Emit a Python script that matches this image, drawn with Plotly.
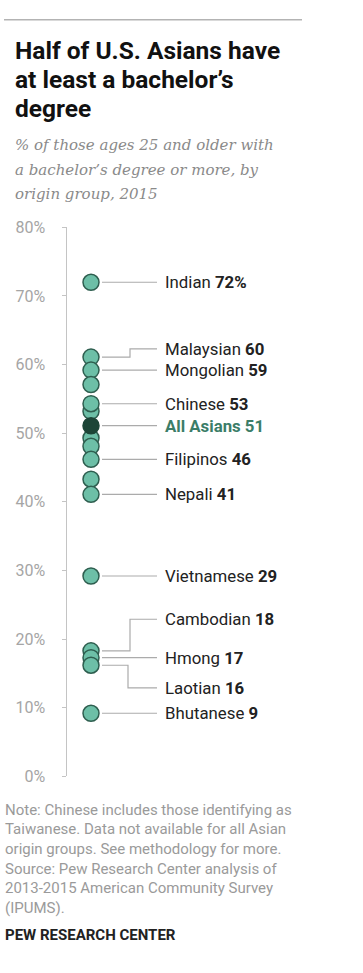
import plotly.graph_objects as go

W, H = 363, 973

# ---------------- data ----------------
dot_names = ["Indian", "Malaysian", "Mongolian", "", "", "Chinese", "", "",
             "Filipinos", "", "Nepali", "Vietnamese", "Cambodian", "Hmong",
             "Laotian", "Bhutanese"]
dot_values = [72.0, 61.1, 59.2, 57.1, 53.2, 54.3, 49.3, 48.1,
              46.2, 43.3, 41.1, 29.2, 18.3, 17.3, 16.2, 9.2]
label_values = {"Indian": "72%", "Malaysian": "60", "Mongolian": "59",
                "Chinese": "53", "Filipinos": "46", "Nepali": "41",
                "Vietnamese": "29", "Cambodian": "18", "Hmong": "17",
                "Laotian": "16", "Bhutanese": "9"}
all_name = "All Asians"
all_value = 51.1
all_label = "51"

y_ticks = [0, 10, 20, 30, 40, 50, 60, 70, 80]

title_lines = ["Half of U.S. Asians have", "at least a bachelor\u2019s", "degree"]
subtitle_lines = ["% of those ages 25 and older with",
                  "a bachelor\u2019s degree or more, by",
                  "origin group, 2015"]
note_lines = ["Note: Chinese includes those identifying as",
              "Taiwanese. Data not available for all Asian",
              "origin groups. See methodology for more.",
              "Source: Pew Research Center analysis of",
              "2013-2015 American Community Survey",
              "(IPUMS)."]
credit = "PEW RESEARCH CENTER"

# ---------------- layout constants (pixels) ----------------
DOT_X = 91
LINE_X0 = 102
LINE_X1 = 157
LABEL_X = 163
label_shift = {"Malaysian": 1.2, "Cambodian": 4.6, "Laotian": -3.3}
elbow_x = {"Malaysian": 130, "Cambodian": 130, "Laotian": 128}

Y0_PX, Y80_PX = 782.7, 222.7


def px(p):
    return p / W


def py(p):
    return 1 - p / H


dom = [py(Y0_PX), py(Y80_PX)]

FILL = "#6dbfa7"
EDGE = "#2e5e4f"
DARK = "#1d4537"
LEAD = "#ababab"
TXT = "#222222"
SANS = "Roboto, Arial, sans-serif"

fig = go.Figure()


def leader(name, v):
    lx = [LINE_X0]
    ly = [v]
    if name in label_shift:
        t = v + label_shift[name]
        lx += [elbow_x[name], elbow_x[name], LINE_X1]
        ly += [v, t, t]
        return lx, ly, t
    lx.append(LINE_X1)
    ly.append(v)
    return lx, ly, v


xs, ys = [], []
annos = []
for n, v in zip(dot_names, dot_values):
    if not n:
        continue
    lx, ly, t = leader(n, v)
    xs += lx + [None]
    ys += ly + [None]
    annos.append(dict(x=LABEL_X, y=t, xref="x", yref="y", xanchor="left",
                      yanchor="middle", showarrow=False,
                      text=f"{n} <b>{label_values[n]}</b>",
                      font=dict(family=SANS, size=16.8, color=TXT)))
lx, ly, t = leader(all_name, all_value)
xs += lx
ys += ly
annos.append(dict(x=LABEL_X, y=t, xref="x", yref="y", xanchor="left",
                  yanchor="middle", showarrow=False,
                  text=f"<b>{all_name} {all_label}</b>",
                  font=dict(family=SANS, size=16.8, color="#3b7d68")))

fig.add_trace(go.Scatter(x=xs, y=ys, mode="lines",
                         line=dict(color=LEAD, width=1.2),
                         hoverinfo="skip", showlegend=False))

fig.add_trace(go.Scatter(x=[DOT_X] * len(dot_values), y=dot_values,
                         mode="markers", showlegend=False,
                         marker=dict(size=16, color=FILL,
                                     line=dict(color=EDGE, width=1.5)),
                         text=dot_names, hoverinfo="text+y"))
fig.add_trace(go.Scatter(x=[DOT_X], y=[all_value], mode="markers",
                         showlegend=False,
                         marker=dict(size=16, color=DARK,
                                     line=dict(color=DARK, width=1.5)),
                         text=[all_name], hoverinfo="text+y"))

for s, yc in zip(title_lines, [42, 71.5, 101]):
    annos.append(dict(x=px(13), y=py(yc), xref="paper", yref="paper",
                      xanchor="left", yanchor="middle", showarrow=False,
                      text=f"<b>{s}</b>",
                      font=dict(family=SANS, size=24.5, color="#111111")))
for s, yc in zip(subtitle_lines, [139, 164, 189]):
    annos.append(dict(x=px(13), y=py(yc), xref="paper", yref="paper",
                      xanchor="left", yanchor="middle", showarrow=False,
                      text=f"<i>{s}</i>",
                      font=dict(family="DejaVu Serif, serif", size=15,
                                color="#8a8a8a")))
for k, s in enumerate(note_lines):
    annos.append(dict(x=px(3), y=py(816.7 + 20 * k), xref="paper", yref="paper",
                      xanchor="left", yanchor="middle", showarrow=False,
                      text=s, font=dict(family=SANS, size=15, color="#9a9a9a")))
annos.append(dict(x=px(3), y=py(944.3), xref="paper", yref="paper",
                  xanchor="left", yanchor="middle", showarrow=False,
                  text=f"<b>{credit}</b>",
                  font=dict(family=SANS, size=15, color="#222222")))

fig.update_layout(
    width=W, height=H, margin=dict(l=0, r=0, t=0, b=0),
    paper_bgcolor="white", plot_bgcolor="white",
    annotations=annos,
    shapes=[dict(type="line", xref="paper", yref="paper",
                 x0=px(4), x1=px(302), y0=py(11), y1=py(11),
                 line=dict(color="#b3b3b3", width=1.5))],
    xaxis=dict(range=[0, W], domain=[0, 1], visible=False, fixedrange=True),
    yaxis=dict(range=[0, 80], domain=dom, anchor="free", position=px(65.5),
               showline=True, linecolor="#c4c4c4", linewidth=1,
               ticks="outside", ticklen=4, tickcolor="#c4c4c4",
               tickvals=y_ticks, ticktext=[f"{t}%" for t in y_ticks],
               tickfont=dict(family=SANS, size=16, color="#a5a5a5"),
               ticklabelstandoff=13,
               showgrid=False, zeroline=False, fixedrange=True),
)

fig.write_html(
    "out.html",
    config={"displayModeBar": False},
    post_script="document.body.style.margin='0';"
                "document.documentElement.style.overflow='hidden';",
)
